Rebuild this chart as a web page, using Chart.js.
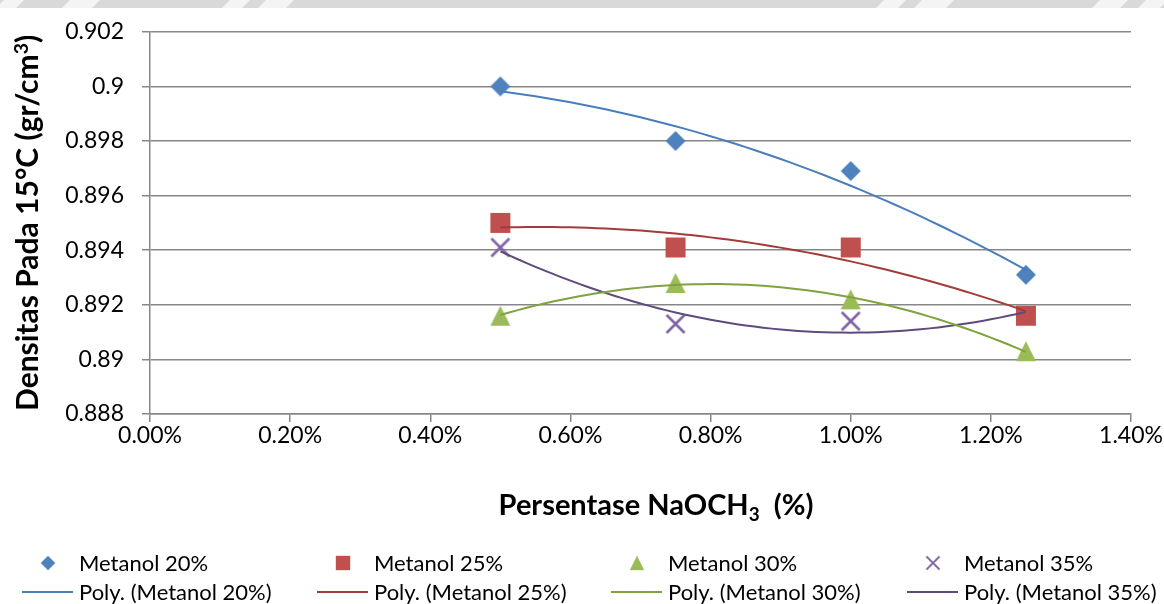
<!DOCTYPE html>
<html>
<head>
<meta charset="utf-8">
<title>Densitas Pada 15°C</title>
<script src="https://cdn.jsdelivr.net/npm/chart.js@4.4.1/dist/chart.umd.min.js"></script>
<style>
  html, body { margin: 0; padding: 0; background: #fff; }
  #wrap { width: 1164px; height: 604px; position: relative; }
</style>
</head>
<body>
<div id="wrap"><canvas id="densityChart" width="1164" height="604"></canvas></div>
<script>
// NaOCH3 percentage (x) and density readings per methanol ratio
const persentase = [0.5, 0.75, 1.0, 1.25];
const metanol20 = [0.9000, 0.8980, 0.8969, 0.8931];
const metanol25 = [0.8950, 0.8941, 0.8941, 0.8916];
const metanol30 = [0.8916, 0.8928, 0.8922, 0.8903];
const metanol35 = [0.8941, 0.8913, 0.8914, 0.8916];

const seriesNames = ['Metanol 20%', 'Metanol 25%', 'Metanol 30%', 'Metanol 35%'];
const xTicks = [0, 0.2, 0.4, 0.6, 0.8, 1.0, 1.2, 1.4];
const yTicks = [0.888, 0.89, 0.892, 0.894, 0.896, 0.898, 0.9, 0.902];

const FONT = "Lato, 'Liberation Sans', sans-serif";
const GRID = '#878787';
const markerColors = ['#4F81BD', '#C0504D', '#9BBB59', '#8064A2'];
const trendColors = ['#4A7EBB', '#A33B39', '#7FA33E', '#5F4A7E'];
const shapes = ['diamond', 'square', 'triangle', 'cross'];

// small canvases used as point styles (centred on the value)
function makeMarker(shape, color) {
  const c = document.createElement('canvas');
  c.width = 22; c.height = 22;
  const g = c.getContext('2d');
  g.fillStyle = color; g.strokeStyle = color;
  g.beginPath();
  if (shape === 'diamond') {
    g.moveTo(11, 1); g.lineTo(21, 11); g.lineTo(11, 21); g.lineTo(1, 11); g.closePath(); g.fill();
  } else if (shape === 'square') {
    g.fillRect(1, 1, 20, 20);
  } else if (shape === 'triangle') {
    g.moveTo(11, 1); g.lineTo(21, 21); g.lineTo(1, 21); g.closePath(); g.fill();
  } else {
    g.lineWidth = 2.6;
    g.moveTo(2, 2); g.lineTo(20, 20); g.moveTo(20, 2); g.lineTo(2, 20); g.stroke();
  }
  return c;
}
const markers = shapes.map((s, i) => makeMarker(s, markerColors[i]));

// 2nd order least squares, same as a spreadsheet "Poly." trendline
function polyFit2(xs, ys) {
  let n = xs.length, sx = 0, sx2 = 0, sx3 = 0, sx4 = 0, sy = 0, sxy = 0, sx2y = 0;
  for (let i = 0; i < n; i++) {
    const x = xs[i], y = ys[i];
    sx += x; sx2 += x * x; sx3 += x * x * x; sx4 += x * x * x * x;
    sy += y; sxy += x * y; sx2y += x * x * y;
  }
  const M = [[n, sx, sx2, sy], [sx, sx2, sx3, sxy], [sx2, sx3, sx4, sx2y]];
  for (let c = 0; c < 3; c++) {
    for (let r = c + 1; r < 3; r++) {
      const f = M[r][c] / M[c][c];
      for (let k = c; k < 4; k++) M[r][k] -= f * M[c][k];
    }
  }
  const a = [0, 0, 0];
  for (let r = 2; r >= 0; r--) {
    let s = M[r][3];
    for (let k = r + 1; k < 3; k++) s -= M[r][k] * a[k];
    a[r] = s / M[r][r];
  }
  return x => a[0] + a[1] * x + a[2] * x * x;
}

function trendPoints(xs, ys) {
  const f = polyFit2(xs, ys);
  const pts = [];
  const x0 = xs[0], x1 = xs[xs.length - 1], steps = 60;
  for (let i = 0; i <= steps; i++) {
    const x = x0 + (x1 - x0) * i / steps;
    pts.push({ x: x, y: f(x) });
  }
  return pts;
}

const allSeries = [metanol20, metanol25, metanol30, metanol35];
const datasets = [];
allSeries.forEach((ys, i) => {
  datasets.push({
    label: seriesNames[i],
    data: persentase.map((x, j) => ({ x: x, y: ys[j] })),
    showLine: false,
    pointStyle: markers[i],
    pointRadius: 11,
    pointHoverRadius: 11,
    order: 2
  });
});
allSeries.forEach((ys, i) => {
  datasets.push({
    label: 'Poly. (' + seriesNames[i] + ')',
    data: trendPoints(persentase, ys),
    showLine: true,
    borderColor: trendColors[i],
    borderWidth: 2,
    pointRadius: 0,
    tension: 0,
    order: 1
  });
});

// measures text runs with super/subscript parts
function measureRich(ctx, parts, size, weight) {
  let w = 0;
  parts.forEach(p => {
    const fs = p.s ? size * 0.65 : size;
    ctx.font = weight + ' ' + fs + 'px ' + FONT;
    p.w = ctx.measureText(p.t).width;
    w += p.w;
  });
  return w;
}
function paintRich(ctx, parts, size, weight, x, y) {
  parts.forEach(p => {
    const fs = p.s ? size * 0.65 : size;
    ctx.font = weight + ' ' + fs + 'px ' + FONT;
    let dy = 0;
    if (p.s === 'sup') dy = -size * 0.34;
    if (p.s === 'sub') dy = size * 0.2;
    ctx.fillText(p.t, x, y + dy);
    x += p.w;
  });
}

const yTitle = [{ t: 'Densitas Pada 15°C (gr/cm' }, { t: '3', s: 'sup' }, { t: ')' }];
const xTitle = [{ t: 'Persentase NaOCH' }, { t: '3', s: 'sub' }, { t: '  (%)' }];

const decorPlugin = {
  id: 'decor',
  beforeDraw(chart) {
    const ctx = chart.ctx;
    ctx.save();
    ctx.fillStyle = '#fff';
    ctx.fillRect(0, 0, chart.width, chart.height);
    // faint grey band along the top edge
    ctx.fillStyle = '#d9d9d9';
    ctx.fillRect(0, 0, chart.width, 8);
    ctx.fillStyle = '#f4f4f4';
    [[0, 20], [66, 96], [226, 246], [262, 290], [880, 902], [918, 950], [1096, 1124], [1142, 1164]].forEach(s => {
      ctx.beginPath();
      ctx.moveTo(s[0] + 4, 0); ctx.lineTo(s[1] + 4, 0); ctx.lineTo(s[1] - 4, 8); ctx.lineTo(s[0] - 4, 8);
      ctx.closePath(); ctx.fill();
    });
    ctx.restore();
  },
  afterDraw(chart) {
    const ctx = chart.ctx;
    const area = chart.chartArea;
    ctx.save();
    ctx.fillStyle = '#000';
    ctx.textBaseline = 'alphabetic';
    ctx.textAlign = 'left';

    // x axis title
    let w = measureRich(ctx, xTitle, 29, 'bold');
    paintRich(ctx, xTitle, 29, 'bold', 656 - w / 2, 515);

    // y axis title, rotated
    w = measureRich(ctx, yTitle, 30, 'bold');
    ctx.save();
    ctx.translate(38, (area.top + area.bottom) / 2);
    ctx.rotate(-Math.PI / 2);
    paintRich(ctx, yTitle, 30, 'bold', -w / 2, 0);
    ctx.restore();

    // legend: markers on the first row, trendlines on the second
    ctx.font = '22px ' + FONT;
    const cols = [79, 374, 668, 964];
    cols.forEach((tx, i) => {
      const m = markers[i];
      ctx.drawImage(m, tx - 31 - 8, 563 - 8, 16, 16);
      ctx.fillText(seriesNames[i], tx, 571);
      ctx.strokeStyle = trendColors[i];
      ctx.lineWidth = 2;
      ctx.beginPath();
      ctx.moveTo(tx - 57, 592); ctx.lineTo(tx - 6, 592);
      ctx.stroke();
      ctx.fillText('Poly. (' + seriesNames[i] + ')', tx, 600);
    });
    ctx.restore();
  }
};

new Chart(document.getElementById('densityChart'), {
  type: 'scatter',
  data: { datasets: datasets },
  plugins: [decorPlugin],
  options: {
    responsive: false,
    devicePixelRatio: 1,
    animation: false,
    layout: { padding: { left: 0, top: 27, right: 33, bottom: 130 } },
    plugins: { legend: { display: false }, tooltip: { enabled: false } },
    scales: {
      x: {
        type: 'linear',
        min: xTicks[0],
        max: xTicks[xTicks.length - 1],
        afterFit: s => { s.height = 60; },
        afterBuildTicks: s => { s.ticks = xTicks.map(v => ({ value: v })); },
        ticks: {
          callback: v => v.toFixed(2) + '%',
          font: { family: FONT, size: 23 },
          color: '#000',
          padding: 0,
          maxRotation: 0,
          autoSkip: false
        },
        grid: { drawOnChartArea: false, drawTicks: true, tickLength: 8, color: GRID, lineWidth: 1.5 },
        border: { color: GRID, width: 1.5 }
      },
      y: {
        type: 'linear',
        min: yTicks[0],
        max: yTicks[yTicks.length - 1],
        afterFit: s => { s.width = 150; },
        afterBuildTicks: s => { s.ticks = yTicks.map(v => ({ value: v })); },
        ticks: {
          callback: v => String(+v.toFixed(3)),
          font: { family: FONT, size: 23 },
          color: '#000',
          padding: 18
        },
        grid: { color: GRID, lineWidth: 1.5, tickLength: 8 },
        border: { color: GRID, width: 1.5 }
      }
    }
  }
});
</script>
</body>
</html>
